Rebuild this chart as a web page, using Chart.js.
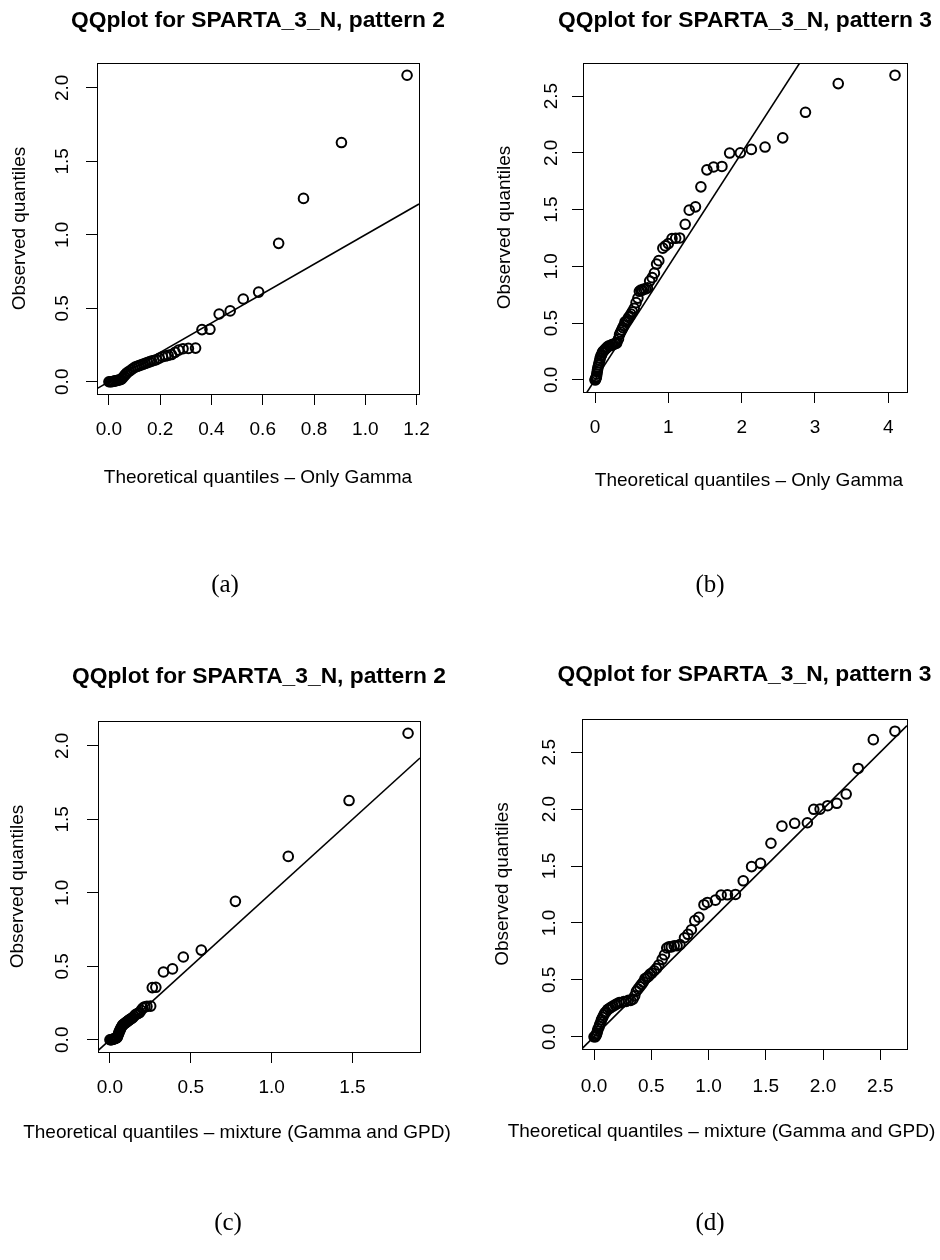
<!DOCTYPE html>
<html><head><meta charset="utf-8">
<script src="https://cdn.jsdelivr.net/npm/chart.js@4.4.0/dist/chart.umd.min.js"></script>
<style>
html,body{margin:0;padding:0;background:#fff;}
body{width:940px;height:1260px;position:relative;overflow:hidden;}
.panel{position:absolute;width:470px;height:630px;}
.panel canvas{display:block;}
.cap{position:absolute;font-family:"Liberation Serif","DejaVu Serif",serif;font-size:25px;color:#000;transform:translate(-50%,-50%);white-space:nowrap;}
</style></head><body>
<div class="panel" style="left:0;top:0"><canvas id="pa" width="470" height="630"></canvas></div>
<div class="panel" style="left:470px;top:0"><canvas id="pb" width="470" height="630"></canvas></div>
<div class="panel" style="left:0;top:630px"><canvas id="pc" width="470" height="630"></canvas></div>
<div class="panel" style="left:470px;top:630px"><canvas id="pd" width="470" height="630"></canvas></div>
<div class="cap" style="left:225px;top:584px">(a)</div>
<div class="cap" style="left:710px;top:584px">(b)</div>
<div class="cap" style="left:228px;top:1222px">(c)</div>
<div class="cap" style="left:710px;top:1222px">(d)</div>
<script>
// ---- data (sorted quantiles) ----
const obsPattern2 = [0.000,0.000,0.000,0.002,0.004,0.006,0.008,0.010,0.012,0.015,0.020,0.030,0.040,0.050,0.060,0.070,0.080,0.090,0.100,0.105,0.110,0.115,0.120,0.125,0.130,0.135,0.140,0.145,0.150,0.160,0.170,0.175,0.180,0.185,0.200,0.215,0.225,0.227,0.229,0.355,0.357,0.461,0.482,0.563,0.610,0.942,1.248,1.628,2.086];
const theoGammaP2 = [0.000,0.005,0.010,0.015,0.020,0.025,0.030,0.035,0.040,0.045,0.050,0.055,0.060,0.065,0.070,0.078,0.086,0.094,0.102,0.110,0.118,0.126,0.134,0.142,0.150,0.158,0.166,0.175,0.185,0.196,0.209,0.221,0.231,0.244,0.258,0.272,0.289,0.310,0.338,0.363,0.394,0.430,0.473,0.524,0.584,0.662,0.759,0.907,1.163];
const theoMixP2 = [0.000,0.005,0.010,0.015,0.020,0.025,0.030,0.035,0.040,0.043,0.046,0.050,0.053,0.056,0.060,0.064,0.068,0.073,0.078,0.084,0.090,0.096,0.102,0.108,0.114,0.120,0.127,0.134,0.141,0.149,0.157,0.165,0.174,0.183,0.193,0.204,0.216,0.229,0.252,0.262,0.284,0.331,0.387,0.454,0.565,0.776,1.103,1.479,1.844];

const obsPattern3 = [0.00,0.00,0.01,0.02,0.03,0.05,0.07,0.09,0.11,0.13,0.15,0.17,0.19,0.21,0.22,0.24,0.25,0.26,0.27,0.28,0.29,0.30,0.30,0.31,0.31,0.32,0.32,0.33,0.36,0.40,0.42,0.44,0.46,0.48,0.51,0.52,0.53,0.55,0.56,0.58,0.60,0.63,0.68,0.72,0.78,0.79,0.79,0.80,0.80,0.81,0.87,0.90,0.94,1.02,1.05,1.16,1.18,1.20,1.245,1.247,1.25,1.37,1.495,1.524,1.70,1.85,1.875,1.88,1.998,2.00,2.03,2.051,2.132,2.357,2.61,2.684];
const theoGammaP3 = [0.00,0.005,0.01,0.015,0.02,0.025,0.03,0.035,0.04,0.05,0.055,0.065,0.07,0.08,0.09,0.10,0.11,0.125,0.14,0.155,0.17,0.19,0.21,0.23,0.25,0.27,0.29,0.30,0.32,0.335,0.35,0.365,0.38,0.395,0.41,0.43,0.445,0.46,0.475,0.49,0.51,0.535,0.56,0.585,0.605,0.625,0.645,0.665,0.69,0.715,0.745,0.78,0.81,0.84,0.87,0.925,0.96,1.00,1.05,1.10,1.155,1.23,1.285,1.37,1.444,1.526,1.617,1.731,1.836,1.982,2.132,2.319,2.56,2.87,3.317,4.091];
const theoMixP3 = [0.00,0.01,0.015,0.02,0.025,0.03,0.035,0.045,0.05,0.06,0.065,0.075,0.085,0.095,0.105,0.12,0.135,0.15,0.165,0.185,0.20,0.22,0.24,0.26,0.28,0.30,0.32,0.34,0.355,0.37,0.385,0.40,0.415,0.43,0.445,0.46,0.475,0.49,0.505,0.525,0.545,0.565,0.595,0.615,0.635,0.655,0.675,0.70,0.725,0.75,0.79,0.82,0.85,0.88,0.915,0.96,0.99,1.06,1.11,1.165,1.235,1.303,1.376,1.454,1.545,1.641,1.752,1.863,1.919,1.974,2.04,2.12,2.202,2.307,2.439,2.628];

// reference line y = intercept + slope * x
const refIntercept = 0;
const refSlope = 1;

// ---- text ----
const titleP2 = "QQplot for SPARTA_3_N, pattern 2";
const titleP3 = "QQplot for SPARTA_3_N, pattern 3";
const xLabelGamma = "Theoretical quantiles \u2013 Only Gamma";
const xLabelMix = "Theoretical quantiles \u2013 mixture (Gamma and GPD)";
const yLabel = "Observed quantiles";

// ---- tick labels ----
const xTicksA = [0, 0.2, 0.4, 0.6, 0.8, 1.0, 1.2];
const yTicksA = [0, 0.5, 1.0, 1.5, 2.0];
const xTicksB = [0, 1, 2, 3, 4];
const yTicksB = [0, 0.5, 1.0, 1.5, 2.0, 2.5];
const xTicksC = [0, 0.5, 1.0, 1.5];
const yTicksC = [0, 0.5, 1.0, 1.5, 2.0];
const xTicksD = [0, 0.5, 1.0, 1.5, 2.0, 2.5];
const yTicksD = [0, 0.5, 1.0, 1.5, 2.0, 2.5];

// ---- helpers ----
function rRange(arr){ // R default: data range extended by 4% each side
  const lo = Math.min(...arr), hi = Math.max(...arr), d = (hi - lo) * 0.04;
  return [lo - d, hi + d];
}
const frame = {
  id: 'frame',
  afterLayout(chart){
    // let the title use the full panel width (no horizontal squeezing), still centred on the plot
    const tb = chart.titleBlock;
    if (tb) { const c = (tb.left + tb.right) / 2; tb.left = c - 235; tb.right = c + 235; }
  },
  afterDraw(chart){
    const {ctx, chartArea: a} = chart;
    ctx.save();
    ctx.strokeStyle = '#000';
    ctx.lineWidth = 1;
    ctx.strokeRect(Math.round(a.left) + 0.5, Math.round(a.top) + 0.5, Math.round(a.right - a.left), Math.round(a.bottom - a.top));
    ctx.restore();
  }
};
const SANS = "'Liberation Sans', Arial, Helvetica, sans-serif";
const TITLE_SIZE = 22.8, TITLE_LH = TITLE_SIZE * 1.2;

function makePanel(id, cfg){
  const W = 470, H = 630;
  const xr = rRange(cfg.x), yr = rRange(cfg.y);
  const pts = cfg.x.map((v, i) => ({x: v, y: cfg.y[i]}));
  const ref = [xr[0], xr[1]].map(v => ({x: v, y: refIntercept + refSlope * v}));
  const b = cfg.box;
  const xAxisH = cfg.xTitleY - b.b + 11.4;
  const tickLen = 11;
  const tPadTop = cfg.titleY - TITLE_LH / 2;
  return new Chart(document.getElementById(id), {
    type: 'scatter',
    data: { datasets: [
      { type: 'scatter', data: pts, pointStyle: 'circle', pointRadius: 4.8, pointHoverRadius: 4.8,
        borderWidth: 2, borderColor: '#000', backgroundColor: 'rgba(0,0,0,0)' },
      { type: 'line', data: ref, borderColor: '#000', borderWidth: 1.6, pointRadius: 0, fill: false, tension: 0 }
    ]},
    options: {
      responsive: false, animation: false, events: [],
      layout: { autoPadding: false, padding: { left: 0, top: 0, right: W - b.r, bottom: H - b.b - xAxisH } },
      plugins: {
        legend: { display: false }, tooltip: { enabled: false },
        title: { display: true, text: cfg.title, fullSize: false, color: '#000',
          font: { family: SANS, size: TITLE_SIZE, weight: 'bold', lineHeight: 1.2 },
          padding: { top: tPadTop, bottom: b.t - tPadTop - TITLE_LH } }
      },
      scales: {
        x: {
          type: 'linear', position: 'bottom', min: xr[0], max: xr[1],
          afterBuildTicks: s => { s.ticks = cfg.xt.map(v => ({value: v})); },
          afterFit: s => {
            s.height = xAxisH;
            if (!s._shiftPatched) {
              const orig = s.drawTitle;
              s.drawTitle = function(){
                const l = this.left, r = this.right, c = (l + r) / 2 + cfg.xTitleShift;
                this.left = c - 235; this.right = c + 235;
                orig.call(this);
                this.left = l; this.right = r;
              };
              s._shiftPatched = true;
            }
          },
          grid: { display: true, drawOnChartArea: false, drawTicks: true, tickLength: tickLen, color: '#000', lineWidth: 1 },
          border: { display: false },
          ticks: { color: '#000', font: { family: SANS, size: 19 }, padding: cfg.xTickY - b.b - tickLen - 11.4,
            minRotation: 0, maxRotation: 0, autoSkip: false, callback: v => v.toFixed(cfg.xdec) },
          title: { display: true, text: cfg.xLabel, color: '#000', font: { family: SANS, size: 19, lineHeight: 1.2 }, padding: { top: 0, bottom: 0 } }
        },
        y: {
          type: 'linear', position: 'left', min: yr[0], max: yr[1],
          afterBuildTicks: s => { s.ticks = cfg.yt.map(v => ({value: v})); },
          afterFit: s => { s.width = b.l; },
          grid: { display: true, drawOnChartArea: false, drawTicks: true, tickLength: tickLen, color: '#000', lineWidth: 1 },
          border: { display: false },
          ticks: { color: '#000', font: { family: SANS, size: 19 }, minRotation: 90, maxRotation: 90, crossAlign: 'center',
            padding: b.l - tickLen - 13.2 - cfg.yTickX, autoSkip: false, callback: v => v.toFixed(1) },
          title: { display: true, text: yLabel, color: '#000', font: { family: SANS, size: 19, lineHeight: 1.2 },
            padding: { top: cfg.yTitleX - 11.4, bottom: 0 } }
        }
      }
    },
    plugins: [frame]
  });
}

makePanel('pa', { x: theoGammaP2, y: obsPattern2, xt: xTicksA, yt: yTicksA, xdec: 1, title: titleP2, xLabel: xLabelGamma,
  box: {l: 97, r: 419, t: 63, b: 394}, titleY: 21, yTitleX: 20, yTickX: 63, xTickY: 430, xTitleY: 478, xTitleShift: 0 });
makePanel('pb', { x: theoGammaP3, y: obsPattern3, xt: xTicksB, yt: yTicksB, xdec: 0, title: titleP3, xLabel: xLabelGamma,
  box: {l: 113, r: 437, t: 63, b: 392}, titleY: 21, yTitleX: 35, yTickX: 82, xTickY: 428, xTitleY: 481, xTitleShift: 4 });
makePanel('pc', { x: theoMixP2, y: obsPattern2, xt: xTicksC, yt: yTicksC, xdec: 1, title: titleP2, xLabel: xLabelMix,
  box: {l: 98, r: 420, t: 91, b: 422}, titleY: 47, yTitleX: 18, yTickX: 63, xTickY: 458, xTitleY: 503, xTitleShift: -22 });
makePanel('pd', { x: theoMixP3, y: obsPattern3, xt: xTicksD, yt: yTicksD, xdec: 1, title: titleP3, xLabel: xLabelMix,
  box: {l: 112, r: 437, t: 89, b: 419}, titleY: 45, yTitleX: 33, yTickX: 80, xTickY: 457, xTitleY: 502, xTitleShift: -23 });
</script>
</body></html>
